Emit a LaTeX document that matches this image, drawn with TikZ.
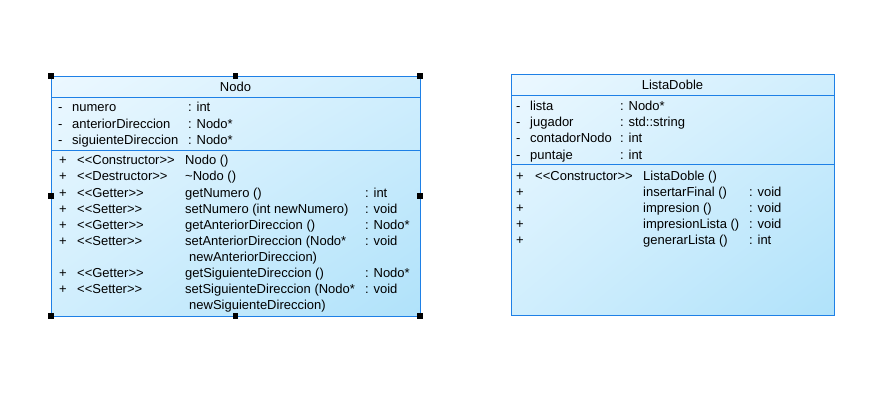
\documentclass[tikz,border=0pt]{standalone}
\usepackage{fontspec}
\setmainfont{Liberation Sans}
\usetikzlibrary{shadings}
\begin{document}
\begin{tikzpicture}[x=1pt,y=-1pt,
  umlframe/.style={draw=umlblue, line width=0.9pt, shade,
    upper left=boxlight, upper right=boxmid, lower left=boxmid, lower right=boxdark},
  sepline/.style={draw=umlblue, line width=0.9pt},
  txt/.style={anchor=base west, inner sep=0pt, font=\fontsize{13}{15}\selectfont, text=black},
  ttl/.style={anchor=base, inner sep=0pt, font=\fontsize{13}{15}\selectfont, text=black},
  handle/.style={fill=black, draw=none, minimum size=5.5pt, inner sep=0pt, rectangle}]
\definecolor{umlblue}{RGB}{30,128,230}
\definecolor{boxlight}{RGB}{236,248,255}
\definecolor{boxmid}{RGB}{208,238,253}
\definecolor{boxdark}{RGB}{176,226,250}

\useasboundingbox (0,0) rectangle (873,400);

% ---------- class Nodo ----------
\path[umlframe] (51,76) rectangle (420,316);
\draw[sepline] (51,97) -- (420,97);
\draw[sepline] (51,150) -- (420,150);
\node[ttl] (nodoTitle) at (235.5,91.5) {Nodo};

\node[txt] (na1) at (58,111.5) {-};
\node[txt] (na1n) at (72,111.5) {numero};
\node[txt] (na1t) at (188,111.5) {: int};
\node[txt] (na2) at (58,128) {-};
\node[txt] (na2n) at (72,128) {anteriorDireccion};
\node[txt] (na2t) at (188,128) {: Nodo*};
\node[txt] (na3) at (58,144.5) {-};
\node[txt] (na3n) at (72,144.5) {siguienteDireccion};
\node[txt] (na3t) at (188,144.5) {: Nodo*};

\node[txt] (nm1) at (59,164.5) {+};
\node[txt] (nm1s) at (77,164.5) {<{}<Constructor>{}>};
\node[txt] (nm1n) at (185,164.5) {Nodo ()};
\node[txt] (nm2) at (59,180.5) {+};
\node[txt] (nm2s) at (77,180.5) {<{}<Destructor>{}>};
\node[txt] (nm2n) at (185,180.5) {\char`\~Nodo ()};
\node[txt] (nm3) at (59,197) {+};
\node[txt] (nm3s) at (77,197) {<{}<Getter>{}>};
\node[txt] (nm3n) at (185,197) {getNumero ()};
\node[txt] (nm3t) at (365,197) {: int};
\node[txt] (nm4) at (59,213) {+};
\node[txt] (nm4s) at (77,213) {<{}<Setter>{}>};
\node[txt] (nm4n) at (185,213) {setNumero (int newNumero)};
\node[txt] (nm4t) at (365,213) {: void};
\node[txt] (nm5) at (59,229) {+};
\node[txt] (nm5s) at (77,229) {<{}<Getter>{}>};
\node[txt] (nm5n) at (185,229) {getAnteriorDireccion ()};
\node[txt] (nm5t) at (365,229) {: Nodo*};
\node[txt] (nm6) at (59,245) {+};
\node[txt] (nm6s) at (77,245) {<{}<Setter>{}>};
\node[txt] (nm6n) at (185,245) {setAnteriorDireccion (Nodo*};
\node[txt] (nm6t) at (365,245) {: void};
\node[txt] (nm6c) at (189,261) {newAnteriorDireccion)};
\node[txt] (nm7) at (59,277) {+};
\node[txt] (nm7s) at (77,277) {<{}<Getter>{}>};
\node[txt] (nm7n) at (185,277) {getSiguienteDireccion ()};
\node[txt] (nm7t) at (365,277) {: Nodo*};
\node[txt] (nm8) at (59,293.5) {+};
\node[txt] (nm8s) at (77,293.5) {<{}<Setter>{}>};
\node[txt] (nm8n) at (185,293.5) {setSiguienteDireccion (Nodo*};
\node[txt] (nm8t) at (365,293.5) {: void};
\node[txt] (nm8c) at (189,309.5) {newSiguienteDireccion)};

% selection handles
\foreach \hx/\hy [count=\i] in {51/76,235.5/76,420/76,51/196,420/196,51/316,235.5/316,420/316}
  \node[handle] (h\i) at (\hx,\hy) {};

% ---------- class ListaDoble ----------
\path[umlframe] (511,74) rectangle (834,315);
\draw[sepline] (511,95) -- (834,95);
\draw[sepline] (511,164) -- (834,164);
\node[ttl] (listaTitle) at (672.5,89.5) {ListaDoble};

\node[txt] (la1) at (516,110) {-};
\node[txt] (la1n) at (530,110) {lista};
\node[txt] (la1t) at (620,110) {: Nodo*};
\node[txt] (la2) at (516,126.5) {-};
\node[txt] (la2n) at (530,126.5) {jugador};
\node[txt] (la2t) at (620,126.5) {: std::string};
\node[txt] (la3) at (516,142.5) {-};
\node[txt] (la3n) at (530,142.5) {contadorNodo};
\node[txt] (la3t) at (620,142.5) {: int};
\node[txt] (la4) at (516,159) {-};
\node[txt] (la4n) at (530,159) {puntaje};
\node[txt] (la4t) at (620,159) {: int};

\node[txt] (lm1) at (516,180) {+};
\node[txt] (lm1s) at (535,180) {<{}<Constructor>{}>};
\node[txt] (lm1n) at (643,180) {ListaDoble ()};
\node[txt] (lm2) at (516,196) {+};
\node[txt] (lm2n) at (643,196) {insertarFinal ()};
\node[txt] (lm2t) at (749,196) {: void};
\node[txt] (lm3) at (516,212.5) {+};
\node[txt] (lm3n) at (643,212.5) {impresion ()};
\node[txt] (lm3t) at (749,212.5) {: void};
\node[txt] (lm4) at (516,228.5) {+};
\node[txt] (lm4n) at (643,228.5) {impresionLista ()};
\node[txt] (lm4t) at (749,228.5) {: void};
\node[txt] (lm5) at (516,244.5) {+};
\node[txt] (lm5n) at (643,244.5) {generarLista ()};
\node[txt] (lm5t) at (749,244.5) {: int};
\end{tikzpicture}
\end{document}
